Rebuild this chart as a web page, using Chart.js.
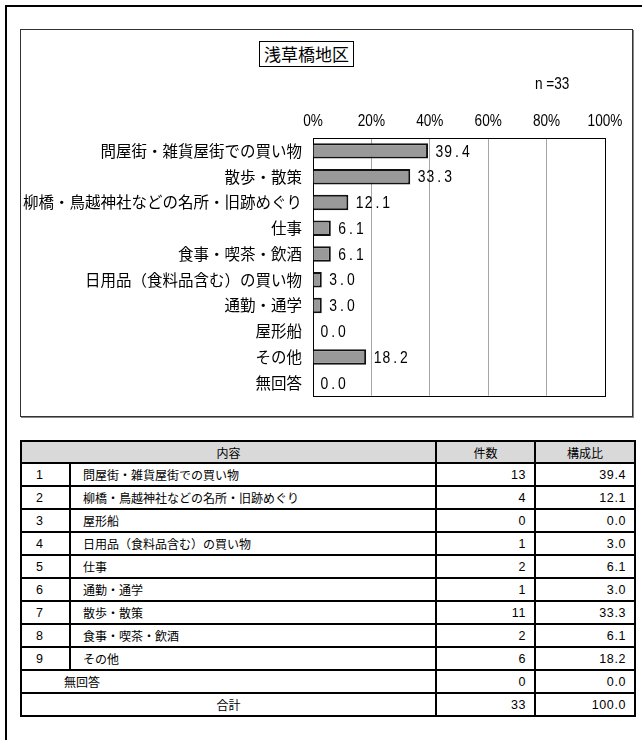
<!DOCTYPE html>
<html lang="ja">
<head>
<meta charset="utf-8">
<script src="https://cdn.jsdelivr.net/npm/chart.js@4/dist/chart.umd.min.js"></script>
<style>
body { margin: 0; background: #fff; font-family: "Noto Sans CJK JP", sans-serif; }
#frame { position: absolute; left: 5px; top: 5px; width: 720px; height: 800px; border: 2px solid #000; }
#chartBox { position: absolute; left: 20px; top: 29px; width: 611px; height: 386px; border: 1px solid #333; box-shadow: 1px 1px 0 #888; }
#chart { position: absolute; left: 0; top: 0; }
#title { position: absolute; left: 259px; top: 41px; width: 93px; height: 24px; border: 1px solid #000; font-size: 17px; line-height: 24px; text-align: center; background: #fff; }
#nLabel { position: absolute; left: 535px; top: 75px; font: 16px "Liberation Sans", sans-serif; transform: scaleX(0.85); transform-origin: left center; }
#tbl { position: absolute; left: 20px; top: 440px; width: 614px; border-collapse: collapse; font-size: 12px; table-layout: fixed; }
#tbl td, #tbl th { border: 2px solid #000; padding: 0; height: 21px; font-weight: normal; }
#tbl th { background: #d9d9d9; height: 20px; text-align: center; }
#tbl td.no { padding-left: 14px; font: 12.5px "Liberation Sans", sans-serif; }
#tbl td.txt { padding-left: 12px; }
#tbl td.num { text-align: right; padding-right: 8px; font: 12.5px "Liberation Sans", sans-serif; letter-spacing: 0.6px; }
</style>
</head>
<body>
<div id="frame"></div>
<div id="chartBox"><canvas id="chart" width="611" height="386"></canvas></div>
<div id="title">浅草橋地区</div>
<div id="nLabel">n =33</div>
<table id="tbl">
  <colgroup><col style="width:49px"><col style="width:366px"><col style="width:99px"><col style="width:100px"></colgroup>
  <thead><tr><th colspan="2">内容</th><th>件数</th><th>構成比</th></tr></thead>
  <tbody id="tbody"></tbody>
</table>
<script>
// chart data (top to bottom)
const categories = ['問屋街・雑貨屋街での買い物', '散歩・散策', '柳橋・鳥越神社などの名所・旧跡めぐり', '仕事', '食事・喫茶・飲酒',
    '日用品（食料品含む）の買い物', '通勤・通学', '屋形船', 'その他', '無回答'];
const percents = [39.4, 33.3, 12.1, 6.1, 6.1, 3.0, 3.0, 0.0, 18.2, 0.0];
const tickValues = [0, 20, 40, 60, 80, 100];

// table data
const tableItems = ['問屋街・雑貨屋街での買い物', '柳橋・鳥越神社などの名所・旧跡めぐり', '屋形船', '日用品（食料品含む）の買い物',
    '仕事', '通勤・通学', '散歩・散策', '食事・喫茶・飲酒', 'その他'];
const tableCounts = [13, 4, 0, 1, 2, 1, 11, 2, 6];
const tableRatios = [39.4, 12.1, 0.0, 3.0, 6.1, 3.0, 33.3, 6.1, 18.2];
const noAnswerCount = 0;
const noAnswerRatio = 0.0;
const totalCount = 33;
const totalRatio = 100.0;

const latinFont = '"Liberation Sans", sans-serif';

function buildTable() {
    const tbody = document.getElementById('tbody');
    let html = '';
    tableItems.forEach((item, i) => {
        html += `<tr><td class="no">${i + 1}</td><td class="txt">${item}</td>` +
            `<td class="num">${tableCounts[i]}</td><td class="num">${tableRatios[i].toFixed(1)}</td></tr>`;
    });
    html += `<tr><td colspan="2" style="padding-left:42px">無回答</td><td class="num">${noAnswerCount}</td><td class="num">${noAnswerRatio.toFixed(1)}</td></tr>`;
    html += `<tr><td colspan="2" style="text-align:center">合計</td><td class="num">${totalCount}</td><td class="num">${totalRatio.toFixed(1)}</td></tr>`;
    tbody.innerHTML = html;
}

// condensed text, one fixed cell per character (like a half-width gothic font)
function drawMono(ctx, text, x, y, cell, squeeze) {
    for (let i = 0; i < text.length; i++) {
        const cx = x + i * cell + cell / 2;
        ctx.save();
        ctx.translate(cx, y);
        ctx.scale(squeeze, 1);
        ctx.fillText(text[i], 0, 0);
        ctx.restore();
    }
}

const plotFrame = {
    id: 'plotFrame',
    beforeDatasetsDraw(chart) {
        const { ctx, chartArea: a } = chart;
        ctx.save();
        ctx.strokeStyle = '#000';
        ctx.lineWidth = 1;
        ctx.strokeRect(Math.round(a.left) + 0.5, Math.round(a.top) + 0.5,
            Math.round(a.right - a.left), Math.round(a.bottom - a.top));
        ctx.restore();
    }
};

// percent tick labels drawn condensed above the plot
const tickLabels = {
    id: 'tickLabels',
    afterDraw(chart) {
        const { ctx, chartArea: a } = chart;
        const xScale = chart.scales.x;
        ctx.save();
        ctx.fillStyle = '#000';
        ctx.font = '16px ' + latinFont;
        ctx.textAlign = 'center';
        ctx.textBaseline = 'middle';
        tickValues.forEach(v => {
            ctx.save();
            ctx.translate(xScale.getPixelForValue(v), a.top - 16);
            ctx.scale(0.85, 1);
            ctx.fillText(v + '%', 0, 0);
            ctx.restore();
        });
        ctx.restore();
    }
};

const valueLabels = {
    id: 'valueLabels',
    afterDatasetsDraw(chart) {
        const { ctx } = chart;
        const meta = chart.getDatasetMeta(0);
        ctx.save();
        ctx.fillStyle = '#000';
        ctx.font = '17px ' + latinFont;
        ctx.textAlign = 'center';
        ctx.textBaseline = 'middle';
        meta.data.forEach((bar, i) => {
            drawMono(ctx, percents[i].toFixed(1), bar.x + 7, bar.y + 1, 8.8, 0.82);
        });
        ctx.restore();
    }
};

function createChart() {
    const ctx = document.getElementById('chart').getContext('2d');
    new Chart(ctx, {
        type: 'bar',
        data: {
            labels: categories,
            datasets: [{
                data: percents,
                backgroundColor: '#999999',
                borderColor: '#111',
                borderWidth: 2,
                barPercentage: 0.6,
                categoryPercentage: 1
            }]
        },
        options: {
            indexAxis: 'y',
            responsive: false,
            animation: false,
            layout: { padding: { left: 0, right: 27, top: 0, bottom: 7 } },
            scales: {
                x: {
                    position: 'top',
                    min: 0,
                    max: 100,
                    afterBuildTicks: axis => { axis.ticks = tickValues.map(v => ({ value: v })); },
                    afterFit: axis => { axis.height = 108; },
                    ticks: { display: false },
                    grid: { color: '#a6a6a6', drawTicks: false },
                    border: { display: false }
                },
                y: {
                    afterFit: axis => { axis.width = 292; },
                    ticks: {
                        color: '#000',
                        padding: 11,
                        font: { family: '"Noto Sans CJK JP", sans-serif', size: 15.5 }
                    },
                    grid: { display: false, drawTicks: false },
                    border: { display: false }
                }
            },
            plugins: {
                legend: { display: false },
                tooltip: { enabled: false }
            }
        },
        plugins: [plotFrame, tickLabels, valueLabels]
    });
}

buildTable();
createChart();
</script>
</body>
</html>
